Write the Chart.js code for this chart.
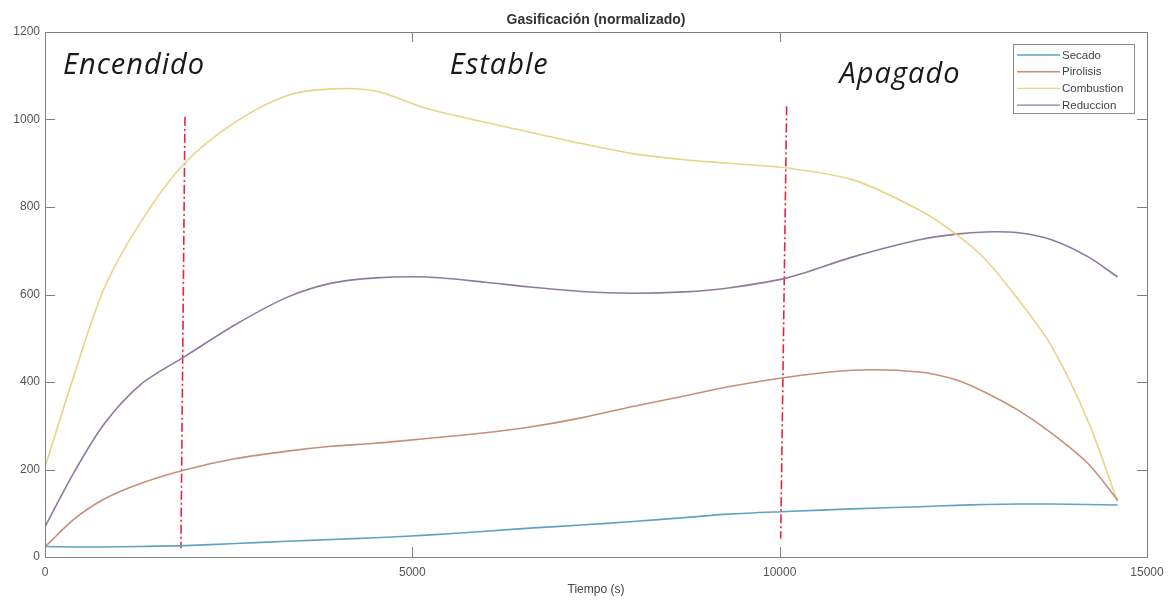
<!DOCTYPE html>
<html><head><meta charset="utf-8">
<script src="https://cdn.jsdelivr.net/npm/chart.js@4.4.1/dist/chart.umd.min.js"></script>
<style>html,body{margin:0;padding:0;background:#fff}#wrap{width:1168px;height:600px;position:relative}</style>
</head><body><div id="wrap"><canvas id="c"></canvas></div>
<script>
// ---- data ----
const times      = [0, 400, 800, 1300, 1900, 2600, 3300, 3900, 4500, 5200, 6000, 6600, 7300, 8000, 8700, 9300, 10100, 11000, 11900, 12400, 12800, 13250, 13700, 14200, 14600];
const secado     = [24, 23, 23, 24, 26, 31, 36, 40, 44, 50, 59, 66, 73, 81, 90, 98, 104, 110, 115, 118, 120, 121, 121, 120, 119];
const pirolisis  = [23, 87, 132, 168, 199, 225, 242, 253, 260, 271, 284, 297, 318, 344, 368, 389, 411, 427, 423, 405, 376, 335, 283, 213, 130];
const combustion = [205, 418, 612, 765, 900, 995, 1055, 1070, 1065, 1025, 993, 971, 945, 922, 908, 900, 889, 862, 793, 738, 680, 588, 482, 310, 126];
const reduccion  = [69, 195, 303, 394, 458, 532, 594, 626, 638, 640, 628, 617, 607, 603, 606, 615, 638, 686, 725, 738, 743, 741, 725, 686, 640];
const seriesNames = ['Secado', 'Pirolisis', 'Combustion', 'Reduccion'];
const xTicks = [0, 5000, 10000, 15000];
const yTicks = [0, 200, 400, 600, 800, 1000, 1200];
const phaseLineX = [[1905, 1850], [10095, 10014]];
const phaseLineY = [[1006, 20], [1030, 42]];
const phaseNames = ['Encendido', 'Estable', 'Apagado'];
const phaseLabelX = [245, 5510, 10816];
const phaseLabelY = [1104, 1104, 1083];
const chartTitle = 'Gasificación (normalizado)';
const xTitle = 'Tiempo (s)';

// ---- styles ----
const seriesColors = ['#5fa3c4', '#c98e76', '#e8d488', '#8f7a9f'];
const seriesValues = [secado, pirolisis, combustion, reduccion];
const AXIS = '#808080';
const FONT = '"Liberation Sans", Arial, sans-serif';

const datasets = seriesValues.map((vals, i) => ({
  label: seriesNames[i],
  data: vals.map((v, k) => ({x: times[k], y: v})),
  borderColor: seriesColors[i],
  borderWidth: 1.6,
  pointRadius: 0,
  tension: 0.3,
  fill: false
}));
phaseLineX.forEach((xs, i) => {
  datasets.push({
    label: 'fase' + i,
    data: xs.map((x, k) => ({x: x, y: phaseLineY[i][k]})),
    borderColor: '#e2263f',
    borderWidth: 1.6,
    borderDash: [9, 3, 2, 3],
    pointRadius: 0,
    tension: 0,
    fill: false
  });
});

const decor = {
  id: 'decor',
  afterDatasetsDraw(chart) {
    const ctx = chart.ctx, a = chart.chartArea;
    const xs = chart.scales.x, ys = chart.scales.y;
    ctx.save();
    ctx.strokeStyle = AXIS; ctx.lineWidth = 1;
    ctx.strokeRect(Math.round(a.left) + 0.5, Math.round(a.top) + 0.5, Math.round(a.right - a.left), Math.round(a.bottom - a.top));
    ctx.beginPath();
    xTicks.forEach(v => {
      const px = Math.round(xs.getPixelForValue(v)) + 0.5;
      ctx.moveTo(px, a.bottom); ctx.lineTo(px, a.bottom - 10);
      ctx.moveTo(px, a.top); ctx.lineTo(px, a.top + 10);
    });
    yTicks.forEach(v => {
      const py = Math.round(ys.getPixelForValue(v)) + 0.5;
      ctx.moveTo(a.left, py); ctx.lineTo(a.left + 10, py);
      ctx.moveTo(a.right, py); ctx.lineTo(a.right - 10, py);
    });
    ctx.stroke();
    ctx.fillStyle = '#333';
    ctx.font = 'bold 14px ' + FONT;
    ctx.textAlign = 'center'; ctx.textBaseline = 'middle';
    ctx.fillText(chartTitle, (a.left + a.right) / 2, 20);
    ctx.fillStyle = '#1a1a1a';
    ctx.font = 'italic 29px "Open Sans", sans-serif';
    try { ctx.letterSpacing = '1px'; } catch (e) {}
    ctx.textAlign = 'left'; ctx.textBaseline = 'alphabetic';
    phaseNames.forEach((t, i) => {
      ctx.fillText(t, xs.getPixelForValue(phaseLabelX[i]), ys.getPixelForValue(phaseLabelY[i]));
    });
    try { ctx.letterSpacing = '0px'; } catch (e) {}
    const lx = 1013, ly = 44, lw = 121, lh = 69;
    ctx.fillStyle = '#fff';
    ctx.fillRect(lx, ly, lw, lh);
    ctx.strokeStyle = '#8a8a8a';
    ctx.strokeRect(lx + 0.5, ly + 0.5, lw, lh);
    ctx.font = '11.5px ' + FONT;
    ctx.textBaseline = 'middle';
    seriesNames.forEach((n, i) => {
      const y = ly + 11 + i * 16.7;
      ctx.strokeStyle = seriesColors[i]; ctx.lineWidth = 1.4;
      ctx.beginPath(); ctx.moveTo(lx + 4, y); ctx.lineTo(lx + 47, y); ctx.stroke();
      ctx.fillStyle = '#444';
      ctx.fillText(n, lx + 49, y + 0.5);
    });
    ctx.restore();
  }
};

new Chart(document.getElementById('c'), {
  type: 'line',
  data: {datasets},
  options: {
    responsive: true, maintainAspectRatio: false, animation: false,
    layout: {padding: {top: 32, right: 21, left: 0, bottom: 0}},
    plugins: {legend: {display: false}, title: {display: false}, tooltip: {enabled: false}},
    scales: {
      x: {
        type: 'linear', min: 0, max: 15000,
        afterBuildTicks: s => { s.ticks = xTicks.map(v => ({value: v})); },
        afterFit: s => { s.height = 43; s.paddingLeft = 0; s.paddingRight = 0; },
        grid: {display: false, drawTicks: false},
        border: {display: false},
        ticks: {color: '#555', font: {family: FONT, size: 12}, padding: 8, maxRotation: 0, callback: v => String(v)},
        title: {display: true, text: xTitle, color: '#444', font: {family: FONT, size: 12}, padding: {top: 0, bottom: 3}}
      },
      y: {
        type: 'linear', min: 0, max: 1200,
        afterBuildTicks: s => { s.ticks = yTicks.map(v => ({value: v})); },
        afterFit: s => { s.width = 45; s.paddingTop = 0; s.paddingBottom = 0; },
        grid: {display: false, drawTicks: false},
        border: {display: false},
        ticks: {color: '#555', font: {family: FONT, size: 12}, padding: 5, callback: v => String(v)}
      }
    }
  },
  plugins: [decor]
});
</script>
</body></html>
